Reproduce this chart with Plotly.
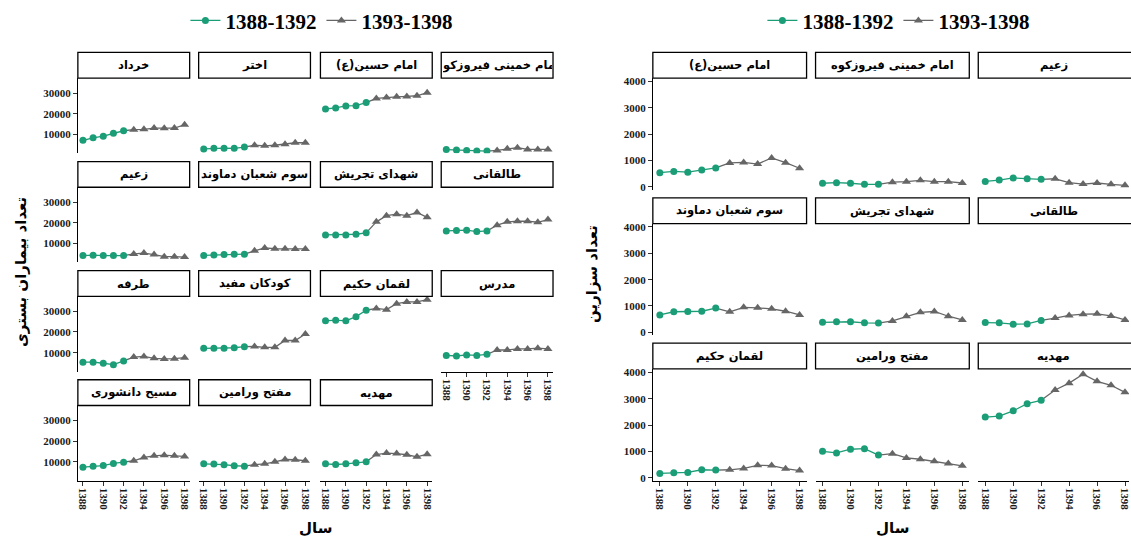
import plotly.graph_objects as go

# ---------------- data ----------------
years = [1388, 1389, 1390, 1391, 1392, 1393, 1394, 1395, 1396, 1397, 1398]
period_labels = ["1388-1392", "1393-1398"]
x_tickvals = [1388, 1390, 1392, 1394, 1396, 1398]

# left chart: تعداد بیماران بستری
left_names = ["خرداد", "اختر", "امام حسین(ع)", "امام خمینی فیروزکوه",
              "زعیم", "سوم شعبان دماوند", "شهدای تجریش", "طالقانی",
              "طرفه", "کودکان مفید", "لقمان حکیم", "مدرس",
              "مسیح دانشوری", "مفتح ورامین", "مهدیه"]
bst_khordad = [7200, 8400, 9200, 10600, 11800, 12300, 12500, 13100, 13000, 13100, 14700]
bst_akhtar = [3000, 3300, 3400, 3300, 3900, 4800, 4500, 4800, 5300, 6000, 6000]
bst_imam_hossein = [22300, 22800, 23800, 23900, 25400, 27400, 27900, 28200, 28400, 28700, 30200]
bst_imam_khomeini = [2700, 2500, 2300, 2000, 2000, 2300, 3100, 3600, 2800, 2800, 2800]
bst_zaeem = [4200, 4400, 4200, 4300, 4200, 5000, 5400, 4700, 3700, 3700, 3500]
bst_sevom_shaban = [4300, 4500, 4700, 4800, 4900, 6500, 7900, 7500, 7500, 7400, 7400]
bst_shohada = [14200, 14200, 14200, 14500, 15200, 20500, 23500, 24200, 23500, 25000, 22700]
bst_taleghani = [16100, 16300, 16500, 15800, 16100, 18900, 20500, 20800, 20800, 20300, 21600]
bst_tarfeh = [5400, 5400, 4900, 4200, 6000, 7900, 8200, 7300, 7000, 7100, 7600]
bst_koodakan = [12100, 12100, 12100, 12400, 12900, 13000, 12600, 12600, 15900, 15900, 19000]
bst_loghman = [25400, 25700, 25400, 27400, 30500, 31400, 30800, 33700, 34500, 34500, 35600]
bst_modarres = [8700, 8400, 8900, 8700, 9200, 11300, 11300, 11800, 11800, 12200, 11800]
bst_masih = [7400, 7900, 8200, 9200, 9800, 10500, 12100, 12900, 13200, 12900, 12600]
bst_mofatteh = [9000, 8900, 8600, 8100, 7900, 8600, 9000, 10000, 11100, 11000, 10500]
bst_mahdieh = [9000, 8700, 9000, 9500, 10000, 13500, 14200, 14000, 13400, 12400, 13700]
left_values = [bst_khordad, bst_akhtar, bst_imam_hossein, bst_imam_khomeini,
               bst_zaeem, bst_sevom_shaban, bst_shohada, bst_taleghani,
               bst_tarfeh, bst_koodakan, bst_loghman, bst_modarres,
               bst_masih, bst_mofatteh, bst_mahdieh]
left_ytickvals = [10000, 20000, 30000]

# right chart: تعداد سزارین
right_names = ["امام حسین(ع)", "امام خمینی فیروزکوه", "زعیم",
               "سوم شعبان دماوند", "شهدای تجریش", "طالقانی",
               "لقمان حکیم", "مفتح ورامین", "مهدیه"]
ces_imam_hossein = [540, 590, 560, 640, 720, 910, 930, 870, 1100, 920, 710]
ces_imam_khomeini = [140, 160, 140, 100, 100, 180, 200, 250, 200, 200, 150]
ces_zaeem = [210, 260, 340, 310, 290, 310, 160, 110, 150, 100, 60]
ces_sevom_shaban = [660, 780, 790, 800, 920, 780, 950, 930, 890, 800, 660]
ces_shohada = [380, 400, 400, 360, 350, 430, 610, 760, 790, 610, 470]
ces_taleghani = [370, 360, 310, 320, 450, 540, 640, 690, 700, 620, 470]
ces_loghman = [160, 190, 200, 300, 290, 300, 350, 470, 460, 340, 270]
ces_mofatteh = [1000, 940, 1080, 1100, 860, 910, 750, 700, 620, 540, 450]
ces_mahdieh = [2300, 2340, 2540, 2810, 2940, 3330, 3590, 3930, 3660, 3510, 3240]
right_values = [ces_imam_hossein, ces_imam_khomeini, ces_zaeem,
                ces_sevom_shaban, ces_shohada, ces_taleghani,
                ces_loghman, ces_mofatteh, ces_mahdieh]
right_ytickvals = [0, 1000, 2000, 3000, 4000]

# ---------------- styling / layout ----------------
W, H = 1131, 542
GREEN = "#1B9E77"
GREY = "#666666"
SERIF = "Liberation Serif, Times New Roman, serif"
ARABIC = "DejaVu Sans, sans-serif"
TICK_FONT = dict(family=SERIF, size=11, color="#1a1a1a", weight="bold")
STRIP_FONT_L = dict(family=ARABIC, size=11.5, color="black", weight="bold")
STRIP_FONT_R = dict(family=ARABIC, size=11.5, color="black", weight="bold")
TITLE_FONT = dict(family=ARABIC, size=15, color="black", weight="bold")

fig = go.Figure()
layout = {}
shapes = []
annotations = []
k_counter = [0]


def fx(x):
    return x / W


def fy(y):
    return 1 - y / H


def add_panel(name, vals, x0, x1, top, bottom, xrange, yrange, show_y, show_x,
              ytickvals, legend, show_legend, strip_font, clip=False):
    k_counter[0] += 1
    k = k_counter[0]
    xa = "xaxis" if k == 1 else f"xaxis{k}"
    ya = "yaxis" if k == 1 else f"yaxis{k}"
    xr = "x" if k == 1 else f"x{k}"
    yr = "y" if k == 1 else f"y{k}"
    layout[xa] = dict(
        domain=[fx(x0), min(fx(x1), 1.0)], range=xrange, anchor=yr,
        showgrid=False, zeroline=False,
        showline=show_x, linecolor="black", linewidth=1,
        ticks="outside" if show_x else "", ticklen=4, tickcolor="#333333",
        showticklabels=show_x, tickvals=x_tickvals, tickangle=90,
        tickformat="d", ticklabeloverflow="allow",
        tickfont=TICK_FONT,
    )
    layout[ya] = dict(
        domain=[fy(bottom), fy(top)], range=yrange, anchor=xr,
        showgrid=False, zeroline=False,
        showline=show_y, linecolor="black", linewidth=1,
        ticks="outside" if show_y else "", ticklen=4, tickcolor="#333333",
        showticklabels=show_y, tickvals=ytickvals, tickformat="d",
        tickfont=TICK_FONT,
    )
    # grey connector from last green point to first grey point
    fig.add_trace(go.Scatter(
        x=years[4:6], y=vals[4:6], mode="lines", xaxis=xr, yaxis=yr,
        line=dict(color=GREY, width=1.3), showlegend=False, hoverinfo="skip"))
    fig.add_trace(go.Scatter(
        x=years[:5], y=vals[:5], mode="lines+markers", xaxis=xr, yaxis=yr,
        name=period_labels[0], legend=legend, showlegend=show_legend,
        line=dict(color=GREEN, width=1.3),
        marker=dict(color=GREEN, size=7, symbol="circle")))
    fig.add_trace(go.Scatter(
        x=years[5:], y=vals[5:], mode="lines+markers", xaxis=xr, yaxis=yr,
        name=period_labels[1], legend=legend, showlegend=show_legend,
        line=dict(color=GREY, width=1.3),
        marker=dict(color=GREY, size=8, symbol="triangle-up")))
    # strip
    st = top - 26
    shapes.append(dict(type="rect", xref="paper", yref="paper",
                       x0=fx(x0), x1=fx(x1), y0=fy(top), y1=fy(st),
                       line=dict(color="black", width=1.3), fillcolor="white",
                       layer="above"))
    vis_w = min(x1, W) - x0
    ann = dict(
        text=name, xref="paper", yref="paper",
        x=fx(x0 + vis_w / 2), y=fy(st + 13), xanchor="center", yanchor="middle",
        showarrow=False, font=strip_font, borderpad=0)
    if clip:
        ann.update(width=vis_w - 3, height=22)
    annotations.append(ann)


# left chart geometry
L_X0 = [78, 199, 321, 442]
L_W = 112
L_TOP0, L_ROWSTEP, L_PH = 76, 110.33, 76
L_YRANGE = [900, 37200]
n_left = len(left_names)
for i, (nm, vals) in enumerate(zip(left_names, left_values)):
    r, c = divmod(i, 4)
    top = L_TOP0 + r * L_ROWSTEP
    bottom = top + L_PH
    is_bottom = (i + 4) >= n_left
    add_panel(nm, vals, L_X0[c], L_X0[c] + L_W, top, bottom,
              [1387.5, 1398.5], L_YRANGE, c == 0, is_bottom,
              left_ytickvals, "legend", i == 0, STRIP_FONT_L,
              clip=(i == 3))

# right chart geometry
R_X0 = [654, 817, 980]
R_W = 154
R_TOP0, R_ROWSTEP, R_PH = 76, 147, 113
R_YRANGE = [-113, 4131]
n_right = len(right_names)
for i, (nm, vals) in enumerate(zip(right_names, right_values)):
    r, c = divmod(i, 3)
    top = R_TOP0 + r * R_ROWSTEP
    bottom = top + R_PH
    x0 = R_X0[c]
    x1 = x0 + R_W
    vis = min(x1, W) - x0
    xr = [1387.5, 1387.5 + 11 * vis / R_W]
    is_bottom = (i + 3) >= n_right
    add_panel(nm, vals, x0, x1, top, bottom, xr, R_YRANGE, c == 0, is_bottom,
              right_ytickvals, "legend2", i == 0, STRIP_FONT_R)

# axis titles
annotations += [
    dict(text="تعداد بیماران بستری", xref="paper", yref="paper",
         x=fx(21), y=fy(272), textangle=-90, showarrow=False,
         xanchor="center", yanchor="middle", font=TITLE_FONT),
    dict(text="سال", xref="paper", yref="paper", x=fx(316), y=fy(531),
         showarrow=False, xanchor="center", yanchor="middle", font=TITLE_FONT),
    dict(text="تعداد سزارین", xref="paper", yref="paper",
         x=fx(593), y=fy(274), textangle=-90, showarrow=False,
         xanchor="center", yanchor="middle", font=TITLE_FONT),
    dict(text="سال", xref="paper", yref="paper", x=fx(894), y=fy(531),
         showarrow=False, xanchor="center", yanchor="middle", font=TITLE_FONT),
]

LEG_FONT = dict(family=SERIF, size=21, color="black", weight="bold")
layout.update(
    width=W, height=H, autosize=False,
    margin=dict(l=0, r=0, t=0, b=0),
    paper_bgcolor="white", plot_bgcolor="white",
    shapes=shapes, annotations=annotations,
    legend=dict(orientation="h", x=fx(322), y=fy(18), xanchor="center",
                yanchor="middle", font=LEG_FONT, bgcolor="rgba(0,0,0,0)",
                itemwidth=30, tracegroupgap=0),
    legend2=dict(orientation="h", x=fx(900), y=fy(18), xanchor="center",
                 yanchor="middle", font=LEG_FONT, bgcolor="rgba(0,0,0,0)",
                 itemwidth=30, tracegroupgap=0),
    hovermode=False,
)
fig.update_layout(**layout)
fig.write_html("out.html", config={"displayModeBar": False},
               post_script="document.body.style.margin='0';document.body.style.overflow='hidden';")
